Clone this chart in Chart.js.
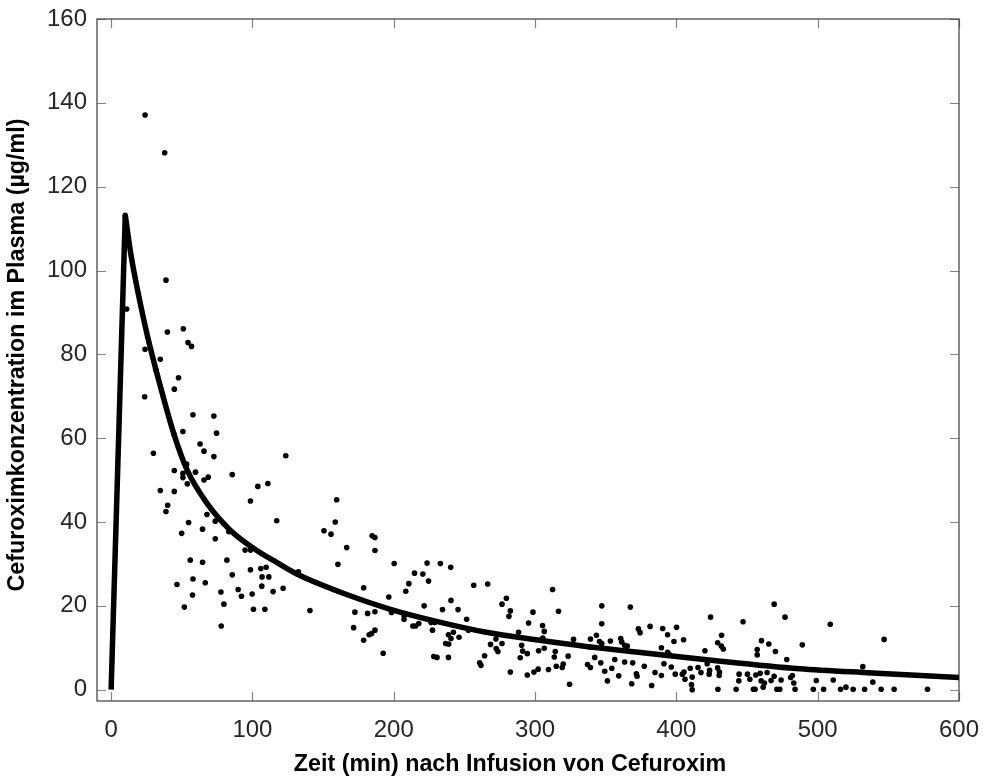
<!DOCTYPE html>
<html>
<head>
<meta charset="utf-8">
<script src="https://cdn.jsdelivr.net/npm/chart.js@4"></script>
<style>
  html, body { margin: 0; padding: 0; background: #ffffff; }
  #wrap { width: 984px; height: 782px; }
</style>
</head>
<body>
<div id="wrap"><canvas id="c" width="984" height="782"></canvas></div>
<script>
// ---- Data ----
const xTickValues = [0, 100, 200, 300, 400, 500, 600];
const yTickValues = [0, 20, 40, 60, 80, 100, 120, 140, 160];

// Observed plasma concentrations: time (min) and concentration (µg/ml)
const obsTime = [
  24.0, 37.9, 38.8, 11.0, 39.8, 51.1, 54.4, 56.9, 24.0, 34.8, 31.5, 47.7, 44.7, 23.7, 57.9, 72.7, 50.8, 74.6, 44.5, 62.9,
  65.7, 29.9, 72.7, 53.4, 44.7, 50.8, 50.8, 59.7, 53.9, 65.7, 68.7, 85.7, 34.8, 44.7, 103.8, 110.9, 98.6, 40.0, 38.8, 67.8,
  73.7, 117.2, 54.8, 64.7, 49.9, 83.3, 73.7, 94.8, 98.6, 56.0, 64.7, 81.9, 98.6, 105.9, 109.7, 85.7, 106.8, 111.6, 57.9,
  123.6, 159.6, 158.6, 150.6, 155.6, 166.7, 184.7, 186.7, 186.7, 160.5, 200.3, 223.6, 233.0, 106.6, 114.6, 121.7, 132.5,
  92.2, 99.8, 100.7, 108.8, 140.7, 178.7, 196.5, 172.5, 181.5, 186.7, 171.6, 178.7, 182.6, 184.3, 186.7, 192.5, 198.4,
  207.3, 207.3, 208.5, 210.7, 214.7, 220.6, 224.6, 221.5, 213.5, 215.4, 217.7, 226.4, 229.0, 227.4, 228.3, 230.6,
  46.6, 66.6, 57.6, 77.7, 89.9, 79.8, 51.8, 77.9,
  240.3, 234.5, 240.5, 245.5, 236.8, 238.9, 240.5, 238.7, 242.2, 246.2, 251.6, 252.8, 238.7, 256.6, 266.5, 276.6, 279.7,
  282.5, 281.5, 260.8, 261.7, 264.3, 268.5, 272.3, 272.5, 273.7, 276.6, 282.5, 288.3, 290.5, 291.2, 294.5, 289.5, 294.5,
  295.4, 298.5, 299.2, 302.2, 302.5, 305.3, 306.5, 305.5, 306.5, 309.5, 312.4, 316.6, 314.3, 313.6, 315.0, 319.2, 319.9,
  323.4, 324.4, 327.2, 337.1, 339.2, 339.2, 338.7, 342.2, 343.4, 347.2, 347.2, 345.6, 347.2, 346.5, 349.3, 351.2, 353.3,
  354.3, 356.4, 359.2, 360.6, 361.3, 363.4, 365.3, 363.4, 367.4, 368.4, 369.1, 371.7, 372.2, 373.1, 374.3, 377.3, 381.4,
  382.5, 384.9, 389.4, 389.4, 390.3, 391.2, 393.8, 393.8,
  400.1, 398.3, 405.1, 395.0, 396.4, 399.2, 404.2, 405.4, 406.1, 409.8, 411.2, 410.7, 411.2, 415.3, 417.4, 420.2, 421.8,
  423.5, 423.2, 424.2, 429.2, 432.0, 431.8, 433.2, 429.2, 430.5, 430.3, 429.4, 442.3, 444.4, 444.2, 447.2, 450.3, 452.0,
  454.5, 455.7, 456.2, 457.2, 457.2, 459.3, 460.2, 460.0, 461.4, 462.3, 464.2, 465.4, 467.0, 469.2, 470.1, 469.2, 471.1,
  473.2, 474.1, 476.9, 478.1, 480.9, 482.1, 483.1, 484.0, 489.1, 496.9, 504.2, 499.0, 508.9, 511.0, 516.2, 520.0, 525.1,
  531.9, 533.2, 539.0, 544.9, 554.1, 547.0, 577.7
];
const obsConc = [
  137.1, 128.1, 97.7, 90.8, 85.3, 86.1, 82.8, 81.9, 81.2, 78.8, 76.4, 74.4, 71.7, 69.9, 65.6, 65.3, 61.6, 61.2, 60.9, 58.6,
  56.9, 56.4, 55.6, 53.8, 52.3, 51.6, 50.6, 51.9, 49.1, 50.0, 50.7, 51.3, 47.5, 47.3, 48.5, 49.2, 45.0, 44.0, 42.5, 41.8,
  40.2, 40.3, 39.9, 38.3, 37.3, 37.7, 36.0, 33.3, 33.3, 30.9, 30.4, 30.9, 28.6, 28.9, 29.2, 27.4, 26.9, 26.9, 26.4,
  55.8, 45.3, 40.0, 37.9, 37.1, 33.9, 36.7, 36.3, 33.2, 29.9, 30.1, 30.2, 30.1, 24.7, 23.4, 24.2, 28.1,
  22.3, 22.8, 19.2, 19.2, 18.9, 24.3, 22.1, 18.5, 18.2, 18.6, 14.8, 11.8, 13.1, 13.4, 14.2, 8.7, 18.4,
  17.7, 16.8, 23.5, 25.3, 27.8, 27.6, 25.9, 20.0, 15.2, 15.2, 15.8, 16.0, 16.0, 14.2, 7.9, 7.7,
  25.1, 25.5, 22.6, 23.3, 23.9, 20.4, 19.7, 15.2,
  29.2, 19.1, 21.3, 19.1, 11.0, 10.9, 12.2, 13.1, 13.7, 12.5, 16.8, 14.2, 7.7, 24.9, 25.2, 20.4, 21.8,
  18.8, 17.5, 6.4, 5.8, 8.1, 10.8, 12.1, 9.8, 9.1, 11.0, 4.2, 13.7, 10.6, 9.2, 8.6, 7.6, 3.5,
  15.9, 18.5, 4.2, 4.9, 9.3, 15.3, 13.9, 12.3, 9.9, 4.8, 23.9, 18.7, 9.1, 7.8, 5.6, 5.3, 6.1,
  8.0, 1.3, 12.0, 6.0, 5.3, 12.1, 10.2, 7.7, 13.0, 20.0, 15.7, 11.5, 11.0, 6.4, 4.4, 2.1, 11.6,
  5.1, 7.2, 3.3, 12.2, 11.4, 10.6, 10.4, 6.6, 19.7, 1.4, 6.4, 3.8, 3.2, 14.5, 13.6, 5.6, 15.1,
  1.0, 4.1, 3.4, 10.0, 14.6, 6.2, 8.9, 13.1,
  14.9, 11.5, 11.9, 8.4, 5.4, 3.7, 3.7, 4.2, 2.5, 5.1, 3.0, 1.2, 0.0, 5.3, 4.1, 9.3, 6.2,
  4.6, 3.7, 17.3, 11.2, 13.0, 10.4, 9.7, 5.2, 4.2, 3.4, 0.1, 0.1, 3.7, 2.1, 16.2, 3.7, 2.5,
  0.1, 0.1, 3.5, 8.3, 9.6, 3.9, 11.7, 2.1, 0.6, 1.6, 4.1, 10.9, 2.2, 20.4, 9.1, 3.2, 0.1,
  0.1, 2.3, 17.3, 7.2, 2.9, 3.4, 1.6, 0.1, 10.7, 0.1, 0.1, 2.2, 15.6, 2.3, 0.1, 0.6, 0.1,
  5.5, 0.1, 1.8, 0.1, 0.1, 12.0, 0.1
];

// Fitted model curve: infusion rise, then decay
const riseTime = [0, 10];
const riseConc = [0, 113.2];
const decayTime = [10, 13.9, 19.8, 25.6, 30.8, 44.5, 53.9, 68, 84.5, 101, 117.4, 132.5, 161.9, 196.5, 230.2, 265.5, 300.8, 336.2, 371.5, 423, 487, 538.6, 600];
const decayConc = [113.2, 104.0, 93.5, 84.5, 77.5, 60.9, 52.3, 44.4, 38.0, 33.7, 30.3, 27.4, 23.3, 19.3, 16.3, 13.7, 11.9, 10.3, 9.0, 7.1, 5.0, 4.0, 2.9];

const xTitle = 'Zeit (min) nach Infusion von Cefuroxim';
const yTitle = 'Cefuroximkonzentration im Plasma (µg/ml)';

// ---- build ----
const toPts = (xs, ys) => xs.map((v, i) => ({ x: v, y: ys[i] }));

const frame = {
  id: 'frame',
  beforeDatasetsDraw(chart) {
    const { ctx, chartArea: a, scales: { x, y } } = chart;
    ctx.save();
    ctx.strokeStyle = '#858585';
    ctx.lineWidth = 1.2;
    ctx.beginPath();
    x.ticks.forEach(t => {
      const px = Math.round(x.getPixelForValue(t.value)) + 0.5;
      ctx.moveTo(px, a.bottom); ctx.lineTo(px, a.bottom - 9);
      ctx.moveTo(px, a.top); ctx.lineTo(px, a.top + 9);
    });
    y.ticks.forEach(t => {
      const py = Math.round(y.getPixelForValue(t.value)) + 0.5;
      ctx.moveTo(a.left, py); ctx.lineTo(a.left + 9, py);
      ctx.moveTo(a.right, py); ctx.lineTo(a.right - 9, py);
    });
    ctx.stroke();
    ctx.strokeStyle = '#4a4a4a';
    ctx.lineWidth = 1.3;
    ctx.strokeRect(a.left, a.top, a.right - a.left, a.bottom - a.top);
    ctx.restore();
  }
};

// Axis titles (canvas text), placed relative to the plot area
const axisTitles = {
  id: 'axisTitles',
  afterDraw(chart) {
    const { ctx, chartArea: a } = chart;
    ctx.save();
    ctx.fillStyle = '#000';
    ctx.font = "bold 23.3px 'Liberation Sans', Arial, sans-serif";
    ctx.textAlign = 'center';
    ctx.textBaseline = 'middle';
    ctx.fillText(xTitle, (a.left + a.right) / 2 - 18, a.bottom + 64);
    ctx.translate(a.left - 79, (a.top + a.bottom) / 2 - 5);
    ctx.rotate(-Math.PI / 2);
    ctx.fillText(yTitle, 0, 0);
    ctx.restore();
  }
};

const tickFont = { family: "'Liberation Sans', Arial, sans-serif", size: 24 };

new Chart(document.getElementById('c'), {
  type: 'scatter',
  data: {
    datasets: [
      {
        label: 'fit-rise',
        data: toPts(riseTime, riseConc),
        showLine: true,
        borderColor: '#000',
        borderWidth: 5.5,
        pointRadius: 0,
        borderCapStyle: 'butt',
        borderJoinStyle: 'round',
        order: 0
      },
      {
        label: 'fit-decay',
        data: toPts(decayTime, decayConc),
        showLine: true,
        borderColor: '#000',
        borderWidth: 5.5,
        pointRadius: 0,
        cubicInterpolationMode: 'monotone',
        borderCapStyle: 'round',
        borderJoinStyle: 'round',
        order: 0
      },
      {
        label: 'observed',
        data: toPts(obsTime, obsConc),
        pointRadius: 2.8,
        pointBackgroundColor: '#000',
        pointBorderWidth: 0,
        borderColor: '#000',
        order: 1
      }
    ]
  },
  options: {
    responsive: false,
    animation: false,
    devicePixelRatio: 1,
    layout: { padding: { left: 6, top: 19, right: 25, bottom: 20 } },
    plugins: { legend: { display: false }, tooltip: { enabled: false } },
    scales: {
      x: {
        type: 'linear',
        min: -10,
        max: 600,
        afterBuildTicks: s => { s.ticks = xTickValues.map(v => ({ value: v })); },
        afterFit: s => { s.height = 61; s.paddingLeft = 0; s.paddingRight = 0; },
        grid: { display: false, drawTicks: false },
        border: { display: false },
        ticks: { font: tickFont, color: '#262626', padding: 15, maxRotation: 0 },
        title: { display: false }
      },
      y: {
        type: 'linear',
        min: -2.7,
        max: 160,
        afterBuildTicks: s => { s.ticks = yTickValues.map(v => ({ value: v })); },
        afterFit: s => { s.width = 91; s.paddingTop = 0; s.paddingBottom = 0; },
        grid: { display: false, drawTicks: false },
        border: { display: false },
        ticks: { font: tickFont, color: '#262626', padding: 10 },
        title: { display: false }
      }
    }
  },
  plugins: [frame, axisTitles]
});
</script>
</body>
</html>
